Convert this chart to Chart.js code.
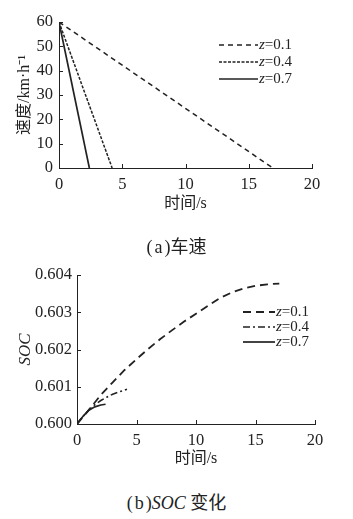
<!DOCTYPE html>
<html>
<head>
<meta charset="utf-8">
<script src="https://cdn.jsdelivr.net/npm/chart.js@4"></script>
<style>
  body { margin: 0; background: #fff; width: 353px; height: 519px; position: relative; overflow: hidden;
         font-family: "Liberation Serif", "Noto Sans CJK SC", serif; color: #222; }
  canvas { position: absolute; left: 0; }
  .cap { position: absolute; left: 0; width: 353px; text-align: center; font-size: 18px; line-height: 22px; }
  .cap span { letter-spacing: 2px; }
</style>
</head>
<body>
<canvas id="speedChart" width="353" height="220" style="top:0"></canvas>
<canvas id="socChart" width="353" height="220" style="top:255px"></canvas>
<div class="cap" style="top:236px"><span>(a</span>)车速</div>
<div class="cap" style="top:492px"><span>(b</span>)<i>SOC</i> 变化</div>
<script>
// (a) speed vs time
const speedTime01 = [0, 16.9];
const speed01 = [60, 0];
const speedTime04 = [0, 4.2];
const speed04 = [60, 0];
const speedTime07 = [0, 2.4];
const speed07 = [60, 0];

// (b) SOC vs time
const socTime01 = [0, 1, 2, 3, 4, 5, 6, 7, 8, 9, 10, 11, 12, 13, 14, 15, 16, 17];
const soc01 = [0.6, 0.60038, 0.60078, 0.60112, 0.60145, 0.60174, 0.60202, 0.60228, 0.60252,
               0.60275, 0.60296, 0.60317, 0.60338, 0.60353, 0.60364, 0.60371, 0.60375, 0.60377];
const socTime04 = [0, 0.5, 1, 1.5, 2, 2.5, 3, 3.5, 4, 4.2];
const soc04 = [0.6, 0.6002, 0.60038, 0.60052, 0.60063, 0.60072, 0.6008, 0.60086, 0.60091, 0.60093];
const socTime07 = [0, 0.3, 0.6, 1, 1.5, 2, 2.4];
const soc07 = [0.6, 0.60013, 0.60024, 0.60037, 0.60046, 0.60051, 0.60053];

const labels = ['z=0.1', 'z=0.4', 'z=0.7'];
const xTicks = [0, 5, 10, 15, 20];

const ink = '#222';
const serif = '"Liberation Serif", "Noto Sans CJK SC", serif';

const pts = (xs, ys) => xs.map((x, i) => ({x: x, y: ys[i]}));

// tick marks pointing into the plot
const innerTicks = {
  id: 'innerTicks',
  afterDraw(chart) {
    const {ctx, chartArea} = chart;
    const {x, y} = chart.scales;
    ctx.save();
    ctx.strokeStyle = ink;
    ctx.lineWidth = 1;
    ctx.beginPath();
    x.ticks.forEach(t => {
      const px = Math.round(x.getPixelForValue(t.value)) + 0.5;
      ctx.moveTo(px, chartArea.bottom);
      ctx.lineTo(px, chartArea.bottom - 4);
    });
    y.ticks.forEach(t => {
      const py = Math.round(y.getPixelForValue(t.value)) + 0.5;
      ctx.moveTo(chartArea.left, py);
      ctx.lineTo(chartArea.left + 4, py);
    });
    ctx.stroke();
    ctx.restore();
  }
};

// legend: line sample then "z=..." with italic z
const lineLegend = {
  id: 'lineLegend',
  afterDraw(chart, args, opts) {
    const ctx = chart.ctx;
    ctx.save();
    chart.data.datasets.forEach((ds, i) => {
      const y = opts.y + i * opts.step;
      ctx.strokeStyle = ds.borderColor;
      ctx.lineWidth = ds.borderWidth;
      ctx.setLineDash(ds.borderDash || []);
      ctx.beginPath();
      ctx.moveTo(opts.x, y);
      ctx.lineTo(opts.x + opts.len, y);
      ctx.stroke();
      ctx.setLineDash([]);
      ctx.fillStyle = ink;
      ctx.textBaseline = 'middle';
      ctx.font = 'italic 15px ' + serif;
      const tx = opts.x + opts.len + 1;
      ctx.fillText(ds.label[0], tx, y);
      const w = ctx.measureText(ds.label[0]).width;
      ctx.font = '15px ' + serif;
      ctx.fillText(ds.label.slice(1), tx + w, y);
    });
    ctx.restore();
  }
};

function makeChart(id, datasets, s) {
  return new Chart(document.getElementById(id), {
    type: 'line',
    data: {datasets: datasets},
    plugins: [innerTicks, lineLegend],
    options: {
      responsive: false,
      animation: false,
      layout: {padding: {left: 0, right: s.right, top: s.top, bottom: 0}},
      elements: {point: {radius: 0}, line: {tension: 0, borderCapStyle: 'butt'}},
      plugins: {
        legend: {display: false},
        tooltip: {enabled: false},
        lineLegend: s.legend
      },
      scales: {
        x: {
          type: 'linear', min: 0, max: 20,
          afterBuildTicks: sc => { sc.ticks = xTicks.map(v => ({value: v})); },
          afterFit: sc => { sc.height = s.xh; },
          grid: {display: false, drawTicks: false},
          border: {display: true, color: ink, width: 1},
          ticks: {color: ink, padding: 7, maxRotation: 0, font: {family: serif, size: 16.5}},
          title: {display: true, text: '时间/s', color: ink, padding: {top: 0, bottom: 7},
                  font: {family: serif, size: 16}}
        },
        y: {
          min: s.ymin, max: s.ymax,
          ticks: {stepSize: s.step, color: ink, padding: s.tpad, font: {family: serif, size: 16.5},
                  callback: s.fmt},
          afterFit: sc => { sc.width = s.yw; },
          grid: {display: false, drawTicks: false},
          border: {display: true, color: ink, width: 1},
          title: {display: true, text: s.ytitle, color: ink, padding: {top: 15, bottom: 0},
                  font: {family: serif, size: s.ysize, style: s.ystyle}}
        }
      }
    }
  });
}

makeChart('speedChart', [
  {label: labels[0], data: pts(speedTime01, speed01), borderColor: ink, borderWidth: 1.5, borderDash: [5, 4]},
  {label: labels[1], data: pts(speedTime04, speed04), borderColor: ink, borderWidth: 1.5, borderDash: [3, 1.5]},
  {label: labels[2], data: pts(speedTime07, speed07), borderColor: ink, borderWidth: 1.7}
], {
  right: 41, top: 22, xh: 52, yw: 59, ymin: 0, ymax: 60, step: 10, tpad: 6,
  fmt: v => v, ytitle: '速度/km·h⁻¹', ystyle: 'normal', ysize: 16,
  legend: {x: 219, y: 45, step: 17, len: 39}
});

makeChart('socChart', [
  {label: labels[0], data: pts(socTime01, soc01), borderColor: ink, borderWidth: 1.8, borderDash: [8, 5]},
  {label: labels[1], data: pts(socTime04, soc04), borderColor: ink, borderWidth: 1.6, borderDash: [7, 3, 2, 3]},
  {label: labels[2], data: pts(socTime07, soc07), borderColor: ink, borderWidth: 1.7}
], {
  right: 38, top: 20, xh: 51, yw: 77, ymin: 0.6, ymax: 0.604, step: 0.001, tpad: 5,
  fmt: v => v.toFixed(3), ytitle: 'SOC', ystyle: 'italic', ysize: 17,
  legend: {x: 243, y: 57, step: 15, len: 32}
});
</script>
</body>
</html>
